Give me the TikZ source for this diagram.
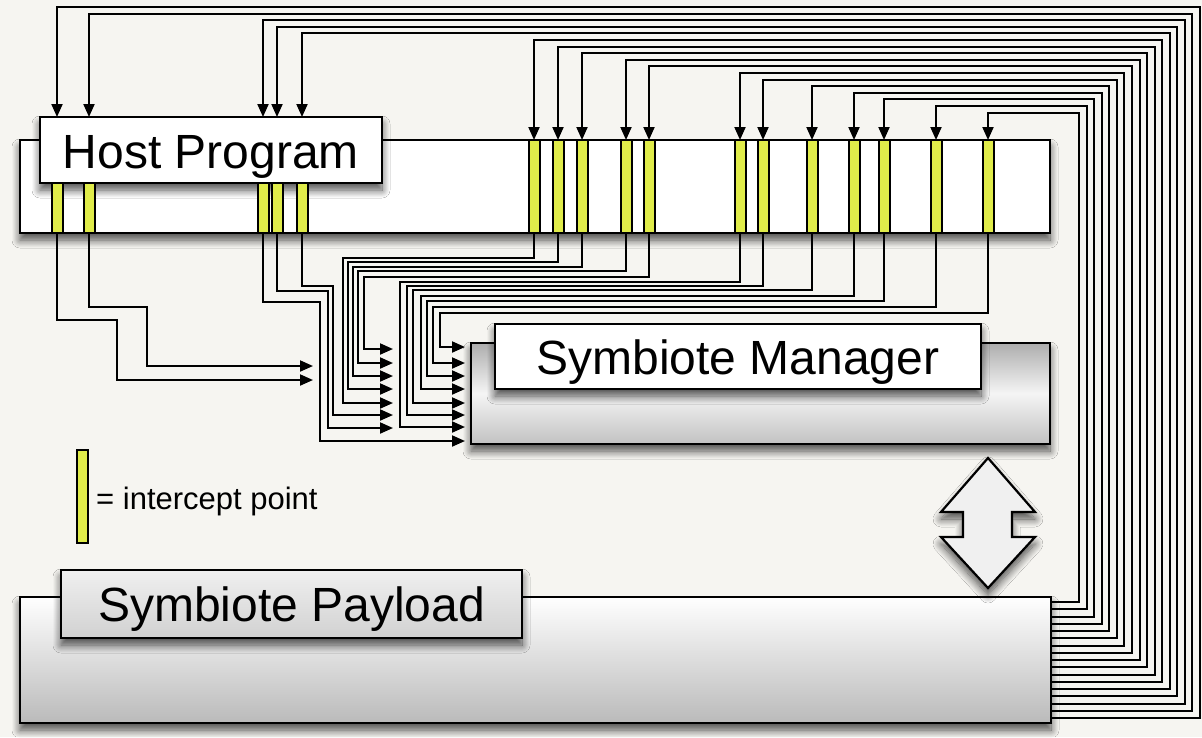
\documentclass[tikz,border=0pt]{standalone}
\usepackage{fontspec}
\setmainfont{Liberation Sans}
\usetikzlibrary{arrows.meta,shadows.blur,calc}
\definecolor{bgc}{HTML}{F6F5F1}
\definecolor{ipt}{HTML}{E0EC4A}
\begin{document}
\begin{tikzpicture}[x=1pt,y=-1pt,
  box/.style={draw=black, line width=2.4pt, inner sep=0pt, outer sep=0pt, rectangle},
  shad/.style={blur shadow={shadow xshift=0pt, shadow yshift=-7pt, shadow blur radius=8pt, shadow opacity=70, shadow blur steps=12}},
  ibar/.style={draw=black, line width=2pt, fill=ipt, inner sep=0pt, outer sep=0pt, minimum width=11pt, rectangle},
  conn/.style={line width=2pt, draw=black},
  arr/.style={-{Triangle[length=13pt,width=11pt]}},
  big/.style={font=\fontsize{48}{48}\selectfont, inner sep=0pt, anchor=base},
]
% background
\fill[bgc] (0,0) rectangle (1202,737);

% boxes
\node[box, shad, fill=white, minimum width=1030pt, minimum height=93pt] (host) at (535,186.5) {};
\node[box, shad, fill=white, minimum width=342pt, minimum height=66pt] (hl) at (211,150) {};
\node[big] (ht) at (211,168) {Host Program};

\node[box, shad, shading=axis, top color=black!32, bottom color=black!24, middle color=black!4,
      minimum width=579pt, minimum height=101pt] (man) at (760.5,393.5) {};
\node[box, shad, fill=white, minimum width=486pt, minimum height=65pt] (ml) at (738,356.5) {};
\node[big] (mt) at (738,374) {Symbiote Manager};

\node[box, shad, top color=white, bottom color=black!27,
      minimum width=1031pt, minimum height=126pt] (pay) at (535.5,660) {};
\node[box, shad, top color=black!6, bottom color=black!18,
      minimum width=461pt, minimum height=68pt] (pl) at (291.5,604) {};
\node[big] (pt) at (291.5,621.5) {Symbiote Payload};

% double arrow
\filldraw[line width=2.2pt, fill=black!6, draw=black, shad]
  (988,458) -- (1035,512) -- (1012,512) -- (1012,537) -- (1035,537) -- (988,588)
  -- (941,537) -- (963,537) -- (963,512) -- (941,512) -- cycle;

% intercept bars
\foreach \x [count=\k] in {57,89,263,277,302,534,558,582,626,649,740,763,812,854,884,936,988}{
  \ifnum\k<6 \def\yt{183}\else\def\yt{140}\fi
  \node[ibar, anchor=south, minimum height={(233-\yt)*1pt}] (i\k) at (\x,233) {};
}

% legend
\node[ibar, anchor=north, minimum height=93pt] (leg) at (82.5,450) {};
\node[font=\fontsize{31}{31}\selectfont, anchor=base west, inner sep=0pt] (legt) at (96,509) {= intercept point};

% connectors from payload to intercept points
\foreach \k in {1,...,17}{
  \pgfmathsetmacro\T{7+6.6*(\k-1)}
  \pgfmathsetmacro\X{1200-7.56*(\k-1)}
  \pgfmathsetmacro\B{718-7.25*(\k-1)}
  \ifnum\k<6
    \draw[conn,arr] (pay.east |- 0,\B) -- (\X,\B) -- (\X,\T) -| (i\k.north |- hl.north);
  \else
    \draw[conn,arr] (pay.east |- 0,\B) -- (\X,\B) -- (\X,\T) -| (i\k.north);
  \fi
}

% connectors from intercept points to manager
\foreach \k/\ym/\xv/\ye/\xt in {
  1/320/117/380/313, 2/307/147/366/313,
  3/302/320/441/465, 4/291/328/428/393, 5/286/333/415/393,
  6/258/343/403/393, 7/262/348/389/393, 8/267/353/376/393, 9/271/358/363/393, 10/277/364/349/393,
  11/282/400/427/465, 12/286/407/415/465, 13/290/413/403/465, 14/296/421/389/465,
  15/301/427/376/465, 16/307/433/363/465, 17/313/440/347/465}{
  \coordinate (e\k) at (\xt,\ye);
  \draw[conn,arr] (i\k.south) |- (\xv,\ym) |- (e\k);
}
\end{tikzpicture}
\end{document}
